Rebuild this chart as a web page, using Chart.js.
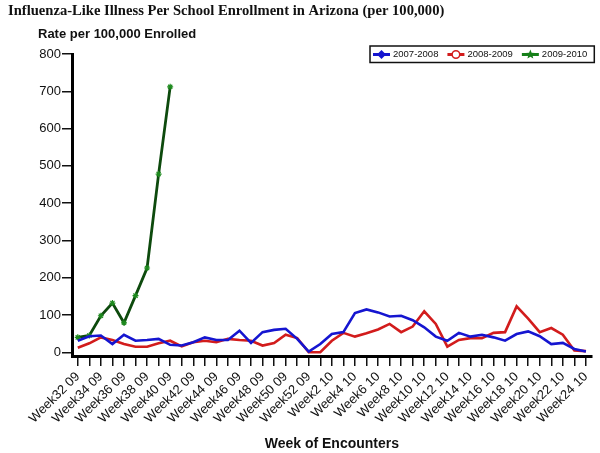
<!DOCTYPE html>
<html>
<head>
<meta charset="utf-8">
<title>Influenza-Like Illness Per School Enrollment in Arizona</title>
<script src="https://cdn.jsdelivr.net/npm/chart.js@4.4.0/dist/chart.umd.min.js"></script>
<style>
    html, body { margin: 0; padding: 0; background: #fff; }
    #wrap { width: 600px; height: 453px; }
</style>
</head>
<body>
<div id="wrap"><canvas id="ili-chart" width="600" height="453"></canvas></div>
<script>
"use strict";

// Week of encounters, Week32 2009 through Week24 2010 (every other one is labelled)
const weeks = [
    "Week32 09", "Week33 09", "Week34 09", "Week35 09", "Week36 09", "Week37 09", "Week38 09",
    "Week39 09", "Week40 09", "Week41 09", "Week42 09", "Week43 09", "Week44 09", "Week45 09",
    "Week46 09", "Week47 09", "Week48 09", "Week49 09", "Week50 09", "Week51 09", "Week52 09",
    "Week53 09", "Week2 10", "Week3 10", "Week4 10", "Week5 10", "Week6 10", "Week7 10",
    "Week8 10", "Week9 10", "Week10 10", "Week11 10", "Week12 10", "Week13 10", "Week14 10",
    "Week15 10", "Week16 10", "Week17 10", "Week18 10", "Week19 10", "Week20 10", "Week21 10",
    "Week22 10", "Week23 10", "Week24 10"
];

// Rate per 100,000 enrolled
const season0708 = [
    31, 43, 45, 22, 47, 31, 33, 36, 20, 18, 27, 40, 33, 33, 58, 25, 54, 60, 63, 36, 2, 22, 49,
    54, 105, 115, 107, 96, 98, 86, 67, 42, 31, 52, 42, 47, 40, 31, 49, 56, 43, 22, 25, 9, 2
];
const season0809 = [
    12, 24, 40, 33, 22, 15, 15, 24, 31, 16, 27, 31, 27, 36, 33, 31, 18, 25, 47, 38, 0, 0, 31,
    52, 42, 51, 61, 76, 54, 69, 110, 76, 15, 33, 38, 38, 52, 54, 123, 90, 54, 65, 47, 5, 3
];
const season0910 = [40, 45, 98, 132, 79, 152, 226, 478, 712];

const yTicks = [0, 100, 200, 300, 400, 500, 600, 700, 800];

const sans = '"Liberation Sans", Arial, sans-serif';

// Small marker shapes for the boxed legend
function drawMarker(ctx, kind, x, y, color){
    ctx.save();
    ctx.fillStyle = color;
    ctx.strokeStyle = color;
    ctx.lineWidth = 1.5;
    ctx.beginPath();
    if (kind === "diamond"){
        ctx.moveTo(x, y - 4.5);
        ctx.lineTo(x + 4.5, y);
        ctx.lineTo(x, y + 4.5);
        ctx.lineTo(x - 4.5, y);
        ctx.closePath();
        ctx.fill();
    } else if (kind === "circle"){
        ctx.arc(x, y, 3.8, 0, Math.PI * 2);
        ctx.fillStyle = "#fff";
        ctx.fill();
        ctx.stroke();
    } else {
        for (let i = 0; i < 10; i++){
            const r = i % 2 === 0 ? 5 : 2.2;
            const a = -Math.PI / 2 + i * Math.PI / 5;
            const px = x + r * Math.cos(a), py = y + r * Math.sin(a);
            i === 0 ? ctx.moveTo(px, py) : ctx.lineTo(px, py);
        }
        ctx.closePath();
        ctx.fill();
    }
    ctx.restore();
}

// Horizontal axis caption above the y axis + boxed legend inside the plot
const extras = {
    id: "extras",
    afterDraw(chart){
        const ctx = chart.ctx;
        ctx.save();

        ctx.font = `bold 13px ${sans}`;
        ctx.fillStyle = "#111";
        ctx.textBaseline = "middle";
        ctx.fillText("Rate per 100,000 Enrolled", 38, 34);

        ctx.font = `9.5px ${sans}`;
        const legY = 54.5;
        let x = 373;
        const widths = chart.data.datasets.map(ds => ctx.measureText(ds.label).width);
        const boxRight = 373 + widths.reduce((s, w) => s + 20 + w + 9, 0) - 9 + 7;
        ctx.fillStyle = "#fff";
        ctx.fillRect(370, 46, boxRight - 370, 16.5);
        ctx.strokeStyle = "#111";
        ctx.lineWidth = 1.5;
        ctx.strokeRect(370, 46, boxRight - 370, 16.5);

        chart.data.datasets.forEach((ds, i) => {
            ctx.strokeStyle = ds.legendColor;
            ctx.lineWidth = 3;
            ctx.beginPath();
            ctx.moveTo(x, legY);
            ctx.lineTo(x + 17, legY);
            ctx.stroke();
            drawMarker(ctx, ds.legendMarker, x + 8.5, legY, ds.legendColor);
            ctx.fillStyle = "#111";
            ctx.fillText(ds.label, x + 20, legY);
            x += 20 + widths[i] + 9;
        });
        ctx.restore();
    }
};

const config = {
    type: "line",
    data: {
        labels: weeks,
        datasets: [
            {
                label: "2007-2008",
                data: season0708,
                borderColor: "#1515d0",
                legendColor: "#1515d0",
                legendMarker: "diamond",
                borderWidth: 2.6,
                pointRadius: 0,
                tension: 0
            },
            {
                label: "2008-2009",
                data: season0809,
                borderColor: "#d21c1c",
                legendColor: "#d21c1c",
                legendMarker: "circle",
                borderWidth: 2.6,
                pointRadius: 0,
                tension: 0
            },
            {
                label: "2009-2010",
                data: season0910,
                borderColor: "#0d4a0d",
                legendColor: "#17801a",
                legendMarker: "star",
                borderWidth: 2.8,
                pointStyle: "star",
                pointRadius: 3,
                pointBorderWidth: 1.2,
                pointBorderColor: "#1d8a1d",
                tension: 0
            }
        ]
    },
    options: {
        responsive: false,
        animation: false,
        layout: {
            padding: { left: 8, right: 3, top: 2, bottom: 0 }
        },
        plugins: {
            legend: { display: false },
            tooltip: { enabled: false },
            title: {
                display: true,
                text: "Influenza-Like Illness Per School Enrollment in Arizona (per 100,000)",
                align: "start",
                color: "#111",
                font: { family: '"Liberation Serif", "Times New Roman", serif', size: 14.6, weight: "bold" },
                padding: { top: 0, bottom: 34.5 }
            }
        },
        scales: {
            x: {
                offset: true,
                afterFit: scale => { scale.height = 97; },
                grid: {
                    offset: false,
                    drawOnChartArea: false,
                    drawTicks: true,
                    tickLength: 10,
                    color: "#111",
                    lineWidth: 1.5
                },
                border: { display: true, color: "#000", width: 3 },
                ticks: {
                    autoSkip: false,
                    minRotation: 45,
                    maxRotation: 45,
                    padding: 3,
                    color: "#111",
                    font: { family: sans, size: 13 },
                    callback: function(value, index){
                        return index % 2 === 0 ? this.getLabelForValue(value) : "";
                    }
                },
                title: {
                    display: true,
                    text: "Week of Encounters",
                    color: "#111",
                    font: { family: sans, size: 14, weight: "bold" },
                    padding: { top: 0, bottom: 0 }
                }
            },
            y: {
                min: -10,
                max: 800,
                afterFit: scale => { scale.width = 64; },
                afterBuildTicks: scale => { scale.ticks = yTicks.map(v => ({ value: v })); },
                grid: {
                    drawOnChartArea: false,
                    drawTicks: true,
                    tickLength: 10,
                    color: "#111",
                    lineWidth: 1.5
                },
                border: { display: true, color: "#000", width: 3 },
                ticks: {
                    padding: 1,
                    color: "#111",
                    font: { family: sans, size: 13 }
                }
            }
        }
    },
    plugins: [extras]
};

new Chart(document.getElementById("ili-chart"), config);
</script>
</body>
</html>
